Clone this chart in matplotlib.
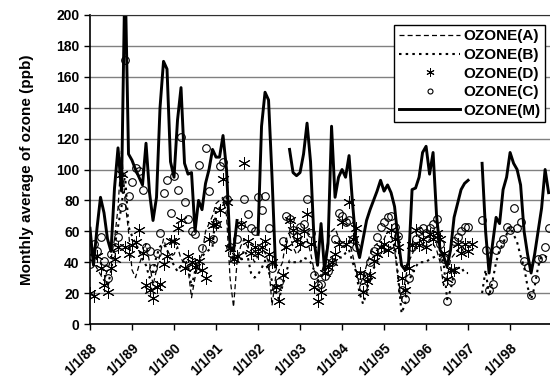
import matplotlib
matplotlib.use("Agg")
import matplotlib.pyplot as plt
import numpy as np

nan = np.nan

# monthly values, Jan 1988 .. Dec 1998 (one row per year)
ozone_m = [62, 38, 62, 82, 72, 55, 47, 88, 114, 86, 230, 110,
           106, 100, 95, 90, 117, 85, 67, 82, 140, 170, 165, 105,
           95, 132, 153, 104, 97, 98, 60, 80, 74, 91, 100, 113,
           108, 108, 122, 100, 50, 47, 67, nan, nan, nan, nan, nan,
           58, 128, 150, 145, 95, 37, nan, nan, nan, 113, 98, 96,
           98, 110, 130, 105, 54, 38, 65, 35, 52, 128, 82, 95,
           100, 95, 109, 78, 52, 43, 55, 67, 74, 80, 86, 93,
           86, 90, 85, 76, 55, 38, 35, 40, 87, 88, 95, 111,
           115, 97, 111, 70, 48, 44, 37, 48, 69, 78, 87, 91,
           93, nan, nan, nan, 104, 60, 33, 52, 69, 65, 87, 95,
           111, 104, 100, 90, 60, 45, 33, 45, 60, 75, 100, 85]

ozone_d = [20, 18, 44, 36, 25, 21, 36, 42, 50, 97, 50, 45,
           51, 53, 61, 46, 25, 22, 17, 24, 26, 39, 44, 54,
           54, 62, 67, 36, 44, 40, 37, 41, 35, 30, 55, 64,
           65, 74, 94, 79, 49, 42, 44, 65, 104, 54, 46, 50,
           46, 50, 54, 45, 40, 24, 15, 32, 50, 67, 61, 55,
           52, 60, 71, 52, 24, 15, 21, 33, 37, 40, 45, 52,
           66, 52, 79, 55, 62, 33, 21, 28, 32, 41, 45, 50,
           52, 48, 61, 55, 50, 30, 22, 36, 51, 61, 51, 55,
           50, 58, 55, 59, 55, 46, 29, 35, 35, 52, 46, 52,
           47, 52, nan, nan, nan, nan, nan, nan, nan, nan, nan, nan,
           nan, nan, nan, nan, nan, nan, nan, nan, nan, nan, nan, nan]

ozone_c = [39, 52, 47, 56, 41, 30, 45, 50, 56, 76, 171, 83,
           92, 101, 99, 87, 50, 47, 36, 46, 59, 85, 93, 72,
           96, 87, 121, 79, 68, 60, 58, 103, 49, 114, 86, 55,
           65, 102, 105, 81, 50, 42, 55, 64, 81, 71, 62, 60,
           82, 74, 83, 62, 36, 23, 27, 54, 70, 68, 61, 56,
           63, 65, 81, 59, 32, 25, 26, 31, 34, 40, 55, 72,
           70, 66, 67, 55, 50, 32, 24, 30, 40, 47, 56, 63,
           66, 69, 70, 63, 57, 22, 16, 30, 50, 55, 60, 62,
           59, 62, 65, 68, 52, 42, 15, 28, 54, 56, 60, 63,
           63, nan, nan, nan, 67, 48, 22, 26, 48, 52, 55, 63,
           61, 75, 62, 66, 41, 37, 19, 29, 42, 43, 50, 62]

ozone_b = [45, 44, 42, 40, 34, 24, 34, 50, 63, 76, 97, 63,
           57, 52, 48, 42, 38, 30, 34, 44, 50, 52, 48, 42,
           38, 34, 38, 42, 38, 24, 34, 40, 44, 46, 48, 50,
           74, 75, 78, 82, 50, 42, 40, 40, 48, 44, 33, 30,
           32, 36, 41, 34, 28, 20, 16, 25, 33, 41, 40, 40,
           40, 43, 42, 40, 35, 28, 30, 34, 37, 40, 42, 43,
           43, 46, 48, 40, 34, 20, 13, 20, 33, 36, 40, 45,
           47, 48, 50, 52, 31, 7, 13, 28, 32, 37, 40, 40,
           40, 42, 43, 44, 45, 40, 16, 22, 33, 36, 37, 33,
           33, nan, nan, nan, 20, 35, 18, 28, 40, 48, 52, 58,
           63, 58, 53, 44, 37, 24, 16, 24, 37, 44, 44, 42]

ozone_a = [42, 40, 36, 32, 28, 35, 42, 55, 75, 112, 80, 60,
           35, 30, 38, 45, 52, 40, 25, 35, 45, 55, 48, 44,
           45, 50, 42, 40, 36, 17, 30, 40, 45, 60, 65, 70,
           78, 80, 82, 70, 30, 11, 40, 50, 55, 50, 45, 40,
           44, 50, 46, 40, 12, 30, 35, 40, 55, 58, 50, 45,
           48, 52, 55, 46, 35, 30, 32, 40, 55, 60, 62, 56,
           52, 50, 54, 45, 35, 25, 30, 38, 45, 50, 52, 50,
           55, 60, 58, 48, 30, 15, 28, 40, 45, 50, 55, 52,
           50, 55, 52, 48, 40, 25, 30, 42, 45, 48, 50, 45,
           nan, nan, nan, nan, nan, nan, nan, nan, nan, nan, nan, nan,
           nan, nan, nan, nan, nan, nan, nan, nan, nan, nan, nan, nan]

tick_labels = ['1/1/88', '1/1/89', '1/1/90', '1/1/91', '1/1/92', '1/1/93',
               '1/1/94', '1/1/95', '1/1/96', '1/1/97', '1/1/98']

plt.rcParams['font.family'] = ['Liberation Sans', 'DejaVu Sans']
plt.rcParams['font.weight'] = 'bold'

months = np.arange(len(ozone_m))

fig = plt.figure(figsize=(5.5, 3.83), dpi=100)
ax = fig.add_axes([90/550, 59/383, 460/550, 309/383])

ax.plot(months, ozone_a, color='k', lw=0.9, linestyle=(0, (4, 2.5)), label='OZONE(A)')
ax.plot(months, ozone_b, color='k', lw=1.5, linestyle=(0, (1.2, 2)), label='OZONE(B)')
ax.plot(months, ozone_d, color='k', lw=0, marker=(6, 2, 0), markersize=9,
        markeredgewidth=0.7, label='OZONE(D)')
ax.plot(months, ozone_c, color='k', lw=0, marker='o', markersize=5.5,
        markerfacecolor='none', markeredgewidth=0.8, label='OZONE(C)')
ax.plot(months, ozone_m, color='k', lw=2.1, label='OZONE(M)')

ax.set_xlim(0, 131.4)
ax.set_ylim(0, 200)
ax.set_yticks(np.arange(0, 201, 20))
ax.yaxis.grid(True, color='#808080', lw=1)
ax.set_axisbelow(True)

ax.set_xticks(np.arange(0, len(ozone_m), 12))
ax.set_xticklabels(tick_labels, rotation=45, ha='right', rotation_mode='anchor')
ax.tick_params(axis='both', labelsize=10, length=4, color='k', width=1)
ax.tick_params(axis='x', pad=8)

ax.spines['right'].set_visible(False)
ax.spines['top'].set_color('#303030')
ax.spines['left'].set_linewidth(1.2)
ax.spines['bottom'].set_linewidth(1.2)

ax.set_ylabel('Monthly average of ozone (ppb)', fontsize=11, fontweight='bold', labelpad=16)

leg = ax.legend(loc='upper right', bbox_to_anchor=(0.989, 0.968), borderaxespad=0,
                fontsize=11, frameon=True, fancybox=False, handlelength=4.0,
                handletextpad=0.2, labelspacing=0.3, borderpad=0.3, markerscale=0.65)
leg.get_frame().set_edgecolor('k')
leg.get_frame().set_linewidth(1.0)
leg.get_frame().set_alpha(1)

plt.savefig('out.png', dpi=100)
